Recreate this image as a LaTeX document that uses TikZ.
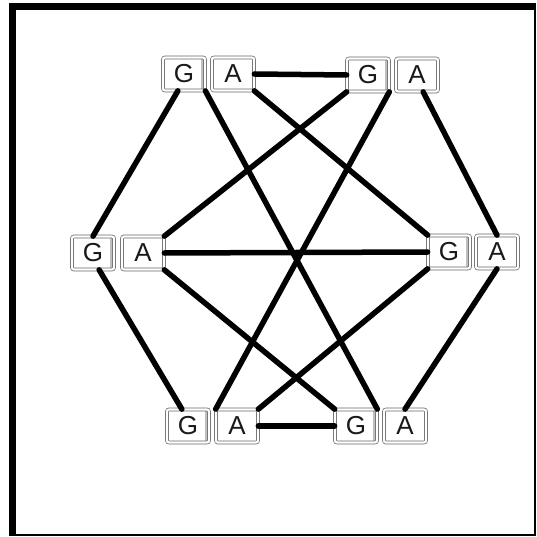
\documentclass[tikz,border=0pt]{standalone}
\usepackage{fontspec}
\setmainfont{Liberation Sans}
\tikzset{
  key/.style={draw=black!60, double, double distance=2.2pt, line width=0.7pt,
    rounded corners=2pt, minimum width=42pt, minimum height=33pt, inner sep=0pt,
    font=\fontsize{26}{26}\selectfont, text=black!90},
  gkey/.style={key, path picture={\fill[gray!50]
    ([xshift=-4pt]path picture bounding box.north east) rectangle
    ([xshift=-1pt]path picture bounding box.south east);}},
  link/.style={line width=5.5pt, line cap=round}
}
\begin{document}
\begin{tikzpicture}[x=1pt, y=-1pt]
    \useasboundingbox (0,0) rectangle (536,537);

    % Frame
    \fill (9,3) rectangle (16,536);
    \fill (9,3) rectangle (536,10);
    \fill (9,534) rectangle (536,536);
    \fill (534,3) rectangle (536,536);

    % Top pairs
    \node[gkey] (tlG) at (184,74) {G};
    \node[key]  (tlA) at (233,74) {A};
    \node[gkey] (trG) at (368,75) {G};
    \node[key]  (trA) at (417,75) {A};

    % Middle pairs
    \node[gkey] (mlG) at (93,253) {G};
    \node[key]  (mlA) at (143,253) {A};
    \node[gkey] (mrG) at (449,252) {G};
    \node[key]  (mrA) at (497,252) {A};

    % Bottom pairs
    \node[gkey] (blG) at (188,426) {G};
    \node[key]  (blA) at (237,426) {A};
    \node[gkey] (brG) at (356,426) {G};
    \node[key]  (brA) at (405,426) {A};

    % Links
    \draw[link] (tlA.east) -- (trG.west);
    \draw[link] (mlA.east) -- (mrG.west);
    \draw[link] (blA.east) -- (brG.west);
    \draw[link] (tlG.250) -- (mlG.north);
    \draw[link] (tlG.south east) -- (brG.north east);
    \draw[link] (tlA.south east) -- (mrG.north west);
    \draw[link] (trG.south west) -- (mlA.north east);
    \draw[link] (trG.south east) -- (blA.north west);
    \draw[link] (trA.290) -- (mrA.north);
    \draw[link] (mlG.290) -- (blG.110);
    \draw[link] (mlA.south east) -- (brG.north west);
    \draw[link] (mrG.south west) -- (blA.north east);
    \draw[link] (mrA.south) -- (brA.north);
\end{tikzpicture}
\end{document}
